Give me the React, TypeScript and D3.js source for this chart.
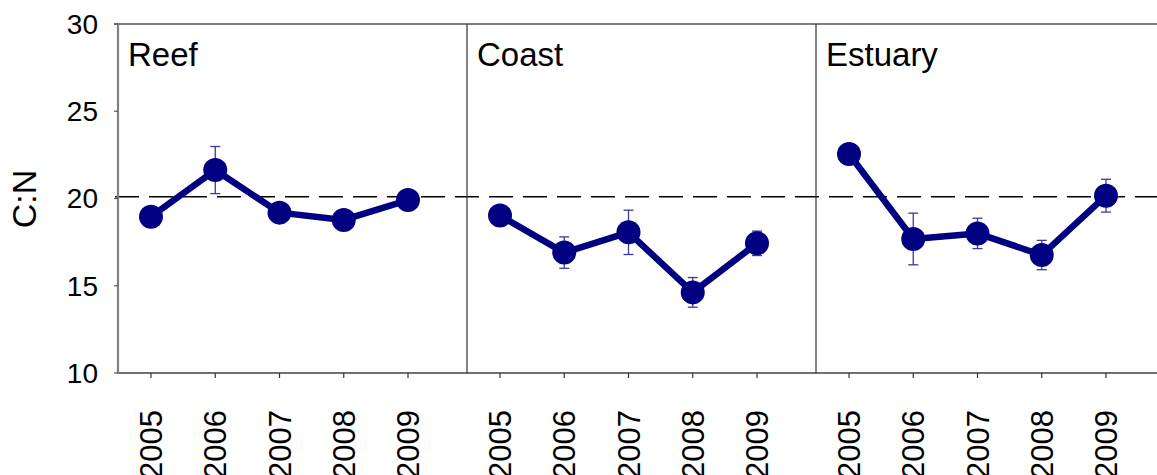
import React from "react";
import * as d3 from "d3";

const years = ["2005", "2006", "2007", "2008", "2009"];
const sites = ["Reef", "Coast", "Estuary"];
const reefMean = [18.96, 21.63, 19.19, 18.77, 19.91];
const reefErr = [0.3, 1.35, 0.3, 0.3, 0.3];
const coastMean = [19.02, 16.9, 18.06, 14.62, 17.43];
const coastErr = [0.3, 0.9, 1.27, 0.85, 0.7];
const estuaryMean = [22.55, 17.68, 18.0, 16.76, 20.16];
const estuaryErr = [0.3, 1.48, 0.87, 0.84, 0.94];
const yTicks = [10, 15, 20, 25, 30];
const refLine = 20.1;

const means = [reefMean, coastMean, estuaryMean];
const errs = [reefErr, coastErr, estuaryErr];

const W = 1157;
const H = 475;
const left = 118;
const top = 24;
const bottom = 373;
const panelW = 349;
const font = "Arial, 'Liberation Sans', sans-serif";
const navy = "#000080";

export default function App() {
  const y = d3.scaleLinear().domain([10, 30]).range([bottom, top]);
  const line = d3.line<number>();
  return (
    <svg width={W} height={H} style={{ position: "absolute", left: 0, top: 0, background: "#fff" }} fontFamily={font}>
      <line x1={115} x2={W} y1={y(refLine)} y2={y(refLine)} stroke="#000" strokeWidth={1.5} strokeDasharray="24,10" />
      <line x1={114} x2={W} y1={top} y2={top} stroke="#555" strokeWidth={1.5} />
      <line x1={118} x2={W} y1={bottom} y2={bottom} stroke="#707070" strokeWidth={1.8} />
      {[1, 2].map((i) => (
        <line key={i} x1={left + panelW * i} x2={left + panelW * i} y1={top} y2={bottom} stroke="#333" strokeWidth={1.2} />
      ))}
      <line x1={left} x2={left} y1={top} y2={bottom + 1} stroke="#808080" strokeWidth={2.2} />
      {yTicks.map((t) => (
        <g key={t}>
          <line x1={114} x2={left} y1={y(t)} y2={y(t)} stroke="#555" strokeWidth={1.2} />
          <text x={98} y={y(t)} dy="0.35em" textAnchor="end" fontSize={28} fill="#000">
            {t}
          </text>
        </g>
      ))}
      <text transform={`translate(36,199) rotate(-90)`} textAnchor="middle" fontSize={34} fill="#000">
        C:N
      </text>
      {sites.map((site, si) => {
        const x0 = left + panelW * si;
        const x = d3.scaleLinear().domain([0, 4]).range([x0 + 33, x0 + 290]);
        const pts = means[si].map((v, i) => [x(i), y(v)] as [number, number]);
        return (
          <g key={site}>
            <text x={x0 + 10} y={66} fontSize={33} fill="#000">
              {site}
            </text>
            {years.map((yr, i) => (
              <g key={yr}>
                <line x1={x(i)} x2={x(i)} y1={bottom} y2={bottom + 5} stroke="#333" strokeWidth={1.2} />
                <text transform={`translate(${x(i)},410) rotate(-90)`} textAnchor="end" dy="0.36em" fontSize={31} fill="#000">
                  {yr}
                </text>
              </g>
            ))}
            {means[si].map((v, i) => (
              <g key={"e" + i} stroke="#3a3aa0" strokeWidth={1.3}>
                <line x1={x(i)} x2={x(i)} y1={y(v + errs[si][i])} y2={y(v - errs[si][i])} />
                <line x1={x(i) - 5} x2={x(i) + 5} y1={y(v + errs[si][i])} y2={y(v + errs[si][i])} />
                <line x1={x(i) - 5} x2={x(i) + 5} y1={y(v - errs[si][i])} y2={y(v - errs[si][i])} />
              </g>
            ))}
            <path d={line(pts) || ""} fill="none" stroke={navy} strokeWidth={6.5} strokeLinejoin="round" />
            {pts.map((p, i) => (
              <circle key={"c" + i} cx={p[0]} cy={p[1]} r={12} fill={navy} />
            ))}
          </g>
        );
      })}
    </svg>
  );
}
